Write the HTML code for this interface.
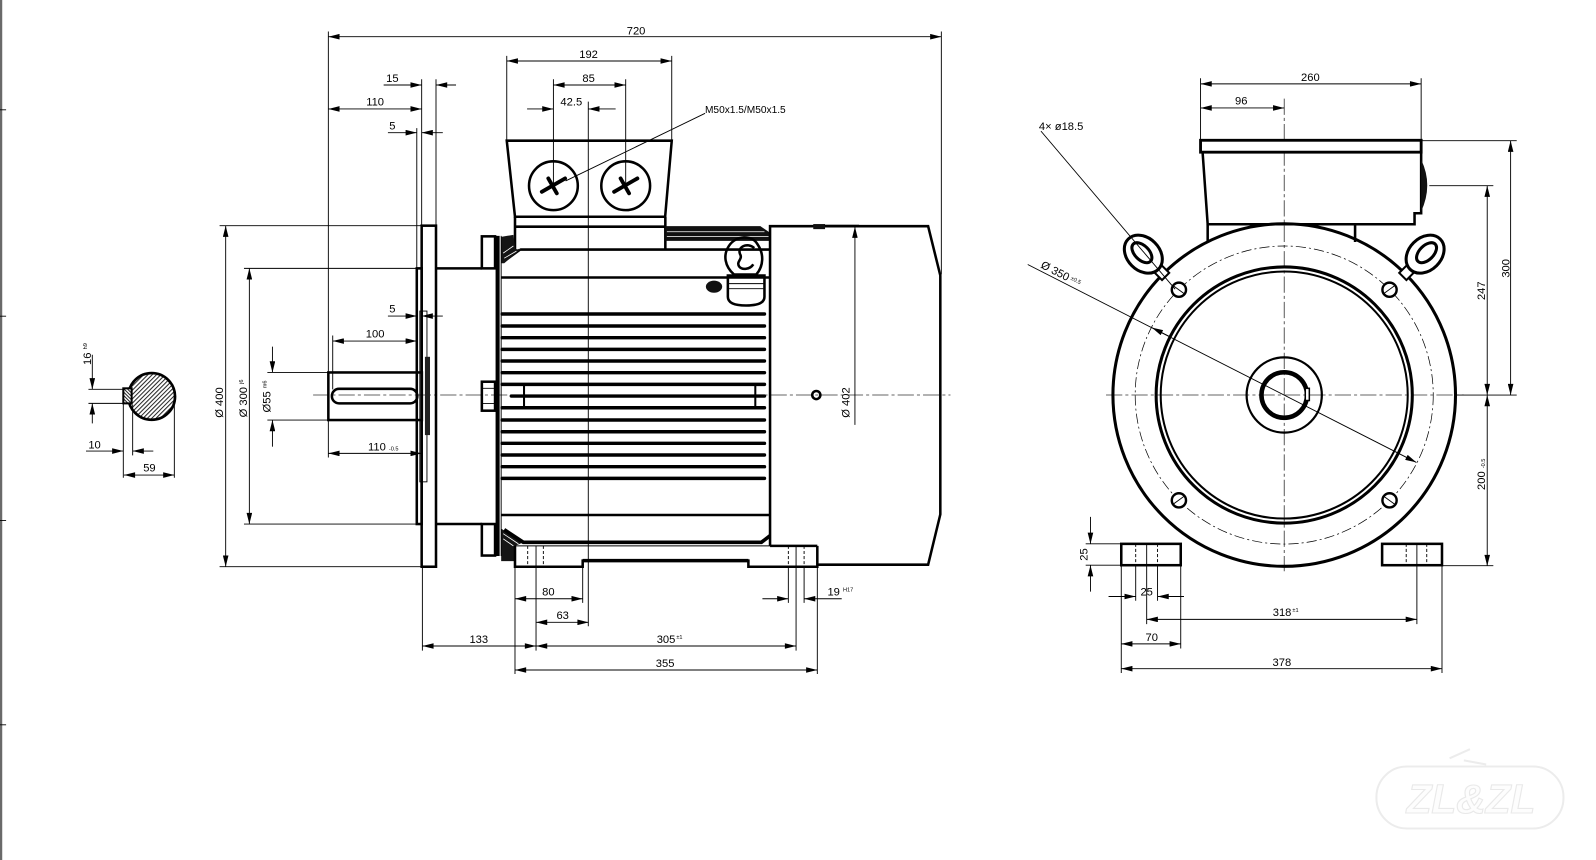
<!DOCTYPE html>
<html><head><meta charset="utf-8">
<style>
html,body{margin:0;padding:0;background:#fff;}
svg{display:block;}
text{font-family:"Liberation Sans",sans-serif;font-size:11px;fill:#000;}
.s{font-size:5.5px;}
.k{stroke:#000;stroke-width:2.5;fill:none;}
.t{stroke:#000;stroke-width:0.9;fill:none;}
.d{stroke:#000;stroke-width:0.9;fill:none;marker-start:url(#a);marker-end:url(#a);}
.e{stroke:#000;stroke-width:0.9;fill:none;marker-end:url(#a);}
.c{stroke:#333;stroke-width:0.8;fill:none;stroke-dasharray:16 3 3 3;}
.f{stroke:#000;stroke-width:3.4;stroke-linecap:round;fill:none;}
.dash{stroke:#000;stroke-width:0.9;fill:none;stroke-dasharray:3 2;}
</style></head><body>
<svg width="1596" height="860" viewBox="0 0 1570 846" preserveAspectRatio="none" xmlns="http://www.w3.org/2000/svg">
<defs>
<marker id="a" viewBox="0 0 12 6" refX="12" refY="3" markerWidth="12" markerHeight="5.5" markerUnits="userSpaceOnUse" orient="auto-start-reverse"><path d="M0,0L12,3L0,6z" fill="#000"/></marker>
<pattern id="h" width="3" height="3" patternUnits="userSpaceOnUse" patternTransform="rotate(45)"><rect width="3" height="3" fill="#fff"/><line x1="0.5" y1="0" x2="0.5" y2="3" stroke="#222" stroke-width="1"/></pattern>
<pattern id="h2" width="2.4" height="2.4" patternUnits="userSpaceOnUse" patternTransform="rotate(-45)"><rect width="2.4" height="2.4" fill="#fff"/><line x1="0.5" y1="0" x2="0.5" y2="2.4" stroke="#222" stroke-width="1"/></pattern>
</defs>

<!-- left border -->
<rect x="0" y="0" width="2.2" height="846" fill="#6a6a6a"/>
<path class="t" d="M0,108H6M0,311H6M0,512H6M0,713H6"/>

<!-- ===== key section ===== -->
<circle cx="149.2" cy="390" r="23" fill="url(#h)" stroke="#000" stroke-width="2.6"/>
<rect x="121.3" y="382" width="8.2" height="14.8" fill="#fff"/>
<rect x="121.3" y="382" width="8.2" height="14.8" fill="url(#h2)" stroke="#000" stroke-width="2"/>

<!-- ===== LEFT VIEW ===== -->
<path class="c" d="M308,388.6H935"/>

<!-- terminal box -->
<path class="k" fill="#fff" stroke-width="2.7" d="M498.5,138.4H660.8L654.3,213.2H506.6Z"/>
<path class="k" d="M506.6,213.2V246M654.5,213.2V244.4M506.6,223H654.5"/>
<circle class="k" cx="544.4" cy="182.7" r="24"/>
<circle class="k" cx="615.5" cy="182.7" r="24"/>
<path stroke="#000" stroke-width="3.8" stroke-linecap="round" d="M533,188.7L555.9,175.5M539.4,175.5L547.7,190.2M604.1,188.7L627,175.5M610.5,175.5L618.8,190.2"/>

<!-- top frame band -->
<path d="M654.5,222.5H748L757.5,229V237H654.5Z" fill="#111"/>
<path stroke="#fff" stroke-width="0.8" d="M656,228H752M656,232.5H756"/>
<path class="k" d="M511.6,245.5H757.5M496,257L511.6,245.5M493,273H757.5"/>
<!-- corner wedges -->
<path d="M493,233L505,231L507,245L511.6,245.5L496,259L493,259Z" fill="#151515"/>
<path stroke="#fff" stroke-width="0.8" d="M496,254L508,247M495,249L505,242"/>
<path d="M493,520L514.8,533.5L506.6,537V552H493Z" fill="#151515"/>
<path stroke="#fff" stroke-width="0.8" d="M495,525L510,535M495,530L505,537"/>

<!-- fins -->
<path class="f" d="M494,308.9H752M494,320.7H752M494,332.2H752M494,343.7H752M494,355.1H752M494,366.6H752M494,378.1H752M503,389.6H752M494,401.1H752M494,413.2H752M494,424.7H752M494,436.1H752M494,447.6H752M494,459.1H752M494,470.6H752"/>
<path stroke="#000" stroke-width="2" d="M515.5,378V401M743,378V401"/>

<!-- lower body -->
<path class="k" d="M493,506.6H757.5"/>
<path stroke="#000" stroke-width="3.6" fill="none" d="M496,521L514.8,533.5H749L757.5,527"/>

<!-- feet -->
<path class="k" d="M506.6,537V557.5H573.2V551.5H736.2V557.5H804V537"/>
<path stroke="#000" stroke-width="3.4" d="M573.2,551.5H736.2"/>
<path class="t" stroke-width="1.3" d="M506.6,537H757.5"/>
<path class="k" d="M757.5,537H804"/>
<path class="dash" d="M519.1,537V557.5M534.5,537V557.5M775.5,537V557.5M791,537V557.5"/>

<!-- body left face, hubs, neck -->
<path stroke="#000" stroke-width="4" d="M489.5,232V547"/>
<path class="t" d="M493,232V547"/>
<rect class="k" stroke-width="2.2" x="474" y="232.5" width="13" height="31.5"/>
<rect class="k" stroke-width="2.2" x="474" y="515.5" width="13" height="31"/>
<rect class="k" stroke-width="2.2" x="474" y="375.5" width="13" height="28.5"/>
<path class="t" d="M474,382H487M474,397H487"/>
<path class="k" stroke-width="2.2" d="M428.9,264H474M428.9,515.5H474"/>

<!-- flange, spigot -->
<rect class="k" fill="#fff" x="414.8" y="222" width="14.1" height="335.5"/>
<rect class="k" stroke-width="2.2" x="410" y="264" width="4.8" height="251.5"/>
<rect class="t" stroke-width="1.3" x="413" y="306" width="7" height="168"/>
<rect x="418" y="351" width="5" height="77" fill="#222"/>

<!-- shaft -->
<rect class="k" x="323" y="366.4" width="92" height="46.8"/>
<rect class="k" x="326.5" y="382.5" width="84" height="14.3" rx="7"/>

<!-- fan cover -->
<path class="k" stroke-width="2.7" d="M757.5,537V222.5H913L925,271V506L913,555.5H804"/>
<rect x="800" y="220.4" width="11.6" height="5" fill="#111"/>
<circle class="k" cx="803" cy="388.6" r="4"/>

<!-- lifting eye + dark oval -->
<path class="k" fill="#fff" stroke-width="3" d="M716,271V292Q716,300.5 734,300.5Q752,300.5 752,292V271Z"/>
<path class="t" stroke-width="1.5" d="M717,279H751M717,284H751"/>
<path class="k" fill="#fff" stroke-width="3" d="M745,240C740,231 724,231 717,242C711,251 713,262 722,270L744,270C751,262 752,250 745,240Z"/>
<path class="k" stroke-width="3" d="M742,244C735,238 725,243 728,250C731,255 724,257 727,262C730,266 738,265 741,260"/>
<ellipse cx="702.4" cy="282" rx="8" ry="6" fill="#111"/>

<!-- left view extension lines -->
<path class="t" d="M323,31V450M926,31V270M498.5,55V138M660.8,55V138M544.4,78V182M615.5,78V182M578.7,100V616M414.8,78V222M428.9,78V222M410,126V264M327.3,330V383M216,222H415M216,557.5H415M240,264H410M240,515.5H410M263,366.4H323M263,413.2H323M87,383H123M87,396.8H123M121.3,397V470M130.5,398V448M171.5,392V470M415.5,557.5V640M506.6,557.5V663M527.3,537V640M573.2,551.5V593M775.5,557.5V593M783.1,537V640M791,557.5V593M804,557.5V663M811,221.5H845"/>
<path class="t" d="M693.6,111.5L556.4,178"/>

<!-- left view dimensions -->
<path class="d" d="M323,36.1H926"/>
<path class="d" d="M498.5,60H660.8"/>
<path class="d" d="M544.4,83.6H615.5"/>
<path class="d" d="M323,107.2H414.8"/>
<path class="d" d="M327.3,335.5H410"/>
<path class="d" d="M323,446H414.8"/>
<path class="d" d="M222,222V557.5"/>
<path class="d" d="M245.3,264V515.5"/>
<path class="d" d="M121.9,467.3H171.5"/>
<path class="d" d="M506.6,589H573.2"/>
<path class="d" d="M527.3,612.2H579"/>
<path class="d" d="M415.5,635.5H527.3"/>
<path class="d" d="M527.3,635.5H783.1"/>
<path class="d" d="M506.6,659.1H804"/>
<path class="e" d="M518.5,107.2H544.4"/><path class="e" d="M605.6,107.2H578.7"/>
<path class="e" d="M377.4,83.6H414.8"/><path class="e" d="M448.6,83.6H428.9"/>
<path class="e" d="M381.6,130.5H410"/><path class="e" d="M435.6,130.5H414.8"/>
<path class="e" d="M381.6,310.9H410"/><path class="e" d="M435.6,310.9H414.8"/>
<path class="e" d="M268,341V366.4"/><path class="e" d="M268,439.4V413.2"/>
<path class="e" d="M90.8,349V383"/><path class="e" d="M90.8,416.5V396.8"/>
<path class="e" d="M84.6,443.7H121.3"/><path class="e" d="M150.8,443.7H130.5"/>
<path class="e" d="M750,589H775.5"/><path class="e" d="M828,589H791"/>
<path class="e" d="M841,418V223"/>

<!-- left view texts -->
<text x="625.7" y="34" text-anchor="middle">720</text>
<text x="579" y="57" text-anchor="middle">192</text>
<text x="579" y="80.5" text-anchor="middle">85</text>
<text x="562" y="104" text-anchor="middle">42.5</text>
<text x="386" y="80.5" text-anchor="middle">15</text>
<text x="369" y="104" text-anchor="middle">110</text>
<text x="386" y="127.5" text-anchor="middle">5</text>
<text x="386" y="307.5" text-anchor="middle">5</text>
<text x="693.5" y="111" style="font-size:10px">M50x1.5/M50x1.5</text>
<text x="369" y="332" text-anchor="middle">100</text>
<text x="362" y="443">110 <tspan class="s">-0.5</tspan></text>
<text transform="translate(219.5,396) rotate(-90)" text-anchor="middle">Ø 400</text>
<text transform="translate(243,392) rotate(-90)" text-anchor="middle">Ø 300 <tspan class="s" dy="-4">j6</tspan></text>
<text transform="translate(266,390) rotate(-90)" text-anchor="middle">Ø55 <tspan class="s" dy="-4">m6</tspan></text>
<text transform="translate(89.5,359) rotate(-90)">16 <tspan class="s" dy="-4">h9</tspan></text>
<text x="93" y="441" text-anchor="middle">10</text>
<text x="147" y="464" text-anchor="middle">59</text>
<text transform="translate(835.5,396) rotate(-90)" text-anchor="middle">Ø 402</text>
<text x="539.4" y="586" text-anchor="middle">80</text>
<text x="553.5" y="609" text-anchor="middle">63</text>
<text x="471" y="632.5" text-anchor="middle">133</text>
<text x="646" y="632.5">305<tspan class="s" dx="1" dy="-4">±1</tspan></text>
<text x="654.3" y="656" text-anchor="middle">355</text>
<text x="814" y="586">19 <tspan class="s" dy="-4">H17</tspan></text>

<!-- ===== RIGHT VIEW ===== -->
<path class="c" d="M1088,388.6H1440M1263.3,97V562"/>
<circle cx="1263.3" cy="388.6" r="168.5" fill="none" stroke="#000" stroke-width="3"/>
<circle cx="1263.3" cy="388.6" r="146.6" fill="none" stroke="#000" stroke-width="0.7" stroke-dasharray="10 3 2 3"/>
<circle cx="1263.3" cy="388.6" r="126" fill="none" stroke="#000" stroke-width="3"/>
<circle cx="1263.3" cy="388.6" r="121.5" fill="none" stroke="#000" stroke-width="2"/>
<circle cx="1263.3" cy="388.6" r="37" fill="none" stroke="#000" stroke-width="2.2"/>
<circle cx="1263.3" cy="388.6" r="22.4" fill="none" stroke="#000" stroke-width="4.5"/>
<rect x="1284" y="382" width="4" height="12" fill="#fff" stroke="#000" stroke-width="1.5"/>

<!-- bolt holes -->
<g fill="#fff" stroke="#000" stroke-width="2.4">
<circle cx="1159.7" cy="285" r="7"/><circle cx="1366.9" cy="285" r="7"/>
<circle cx="1159.7" cy="492.2" r="7"/><circle cx="1366.9" cy="492.2" r="7"/>
</g>
<path class="t" d="M1154,281L1165,289M1361,289L1372,281M1154,496L1165,488M1361,488L1372,496"/>

<!-- lifting eyes -->
<g transform="translate(1263.3,388.6) rotate(-135)">
<rect x="165" y="-5" width="14" height="10" fill="#fff" stroke="#000" stroke-width="2"/>
<ellipse cx="196" cy="0" rx="21" ry="16" fill="#fff" stroke="#000" stroke-width="3"/>
<ellipse cx="198" cy="0" rx="12" ry="7" fill="#fff" stroke="#000" stroke-width="3"/>
</g>
<g transform="translate(1263.3,388.6) rotate(-45)">
<rect x="165" y="-5" width="14" height="10" fill="#fff" stroke="#000" stroke-width="2"/>
<ellipse cx="196" cy="0" rx="21" ry="16" fill="#fff" stroke="#000" stroke-width="3"/>
<ellipse cx="198" cy="0" rx="12" ry="7" fill="#fff" stroke="#000" stroke-width="3"/>
</g>

<!-- terminal box right view -->
<path class="k" stroke-width="2.2" d="M1188,220.6V238M1333,220.6V238"/>
<path class="k" fill="#fff" stroke-width="2.6" d="M1183,149.7L1188,220.6H1391.5V209.8H1398V149.7"/>
<rect x="1181" y="138" width="217" height="11.7" fill="#fff" stroke="#000" stroke-width="2.8"/>
<path d="M1398,157Q1410,182 1398,208Z" fill="#111"/>

<!-- feet right view -->
<rect class="k" stroke-width="2.6" x="1103" y="535" width="58.5" height="21"/>
<rect class="k" stroke-width="2.6" x="1359.6" y="535" width="58.9" height="21"/>
<path class="dash" d="M1117.2,535V556M1138.7,535V556M1383.3,535V556M1403.5,535V556"/>

<!-- right view extension lines -->
<path class="t" d="M1181,77V138M1398,77V138M1398,138.4H1492M1406,182.7H1469M1432,388.6H1492M1418.5,556.5H1469M1068,535H1103M1068,556H1103M1103,556V662M1161.5,556V638M1128,536V614M1117.2,556V591M1138.7,556V591M1393.8,536V614M1418.5,556V662"/>
<path class="t" d="M1024,129L1156,284.5"/>

<!-- right view dims -->
<path class="d" d="M1181,82.5H1398"/>
<path class="d" d="M1181,106.2H1263.3"/>
<path class="d" d="M1486,138.4V388.6"/>
<path class="d" d="M1463,182.7V388.6"/>
<path class="d" d="M1463,388.6V556.8"/>
<path class="d" d="M1128,609.3H1393.8"/>
<path class="d" d="M1103,633.4H1161.5"/>
<path class="d" d="M1103,657.8H1418.5"/>
<path class="e" d="M1072.7,508.5V535"/><path class="e" d="M1072.7,582V556"/>
<path class="e" d="M1090.5,586.8H1117.2"/><path class="e" d="M1164.7,586.8H1138.7"/>
<path class="e" d="M1011,260.2L1393.3,454.9"/>
<path class="e" d="M1152,331.8L1133.1,322.3"/>

<!-- right view texts -->
<text x="1289" y="79.5" text-anchor="middle">260</text>
<text x="1221" y="103" text-anchor="middle">96</text>
<text x="1022" y="128">4×  ø18.5</text>
<text transform="translate(1023,263) rotate(27)">Ø 350<tspan class="s" dx="2" dy="-3">±0.5</tspan></text>
<text transform="translate(1485,264) rotate(-90)" text-anchor="middle">300</text>
<text transform="translate(1461,286) rotate(-90)" text-anchor="middle">247</text>
<text transform="translate(1461,482) rotate(-90)">200 <tspan class="s">-0.5</tspan></text>
<text transform="translate(1070,545.5) rotate(-90)" text-anchor="middle">25</text>
<text x="1128" y="586" text-anchor="middle">25</text>
<text x="1252" y="606">318<tspan class="s" dx="1" dy="-4">±1</tspan></text>
<text x="1133" y="630.5" text-anchor="middle">70</text>
<text x="1261" y="655" text-anchor="middle">378</text>

<!-- faint logo -->
<g fill="none" stroke="#ececec" stroke-width="2">
<rect x="1354" y="754" width="184" height="61" rx="30"/>
<path d="M1426,746L1446,737M1440,748L1462,752"/>
</g>
<text x="1447" y="800" text-anchor="middle" style="font-size:40px;font-style:italic;font-weight:bold;fill:#fdfdfd;stroke:#e9e9e9;stroke-width:1.1">ZL&amp;ZL</text>
</svg>
</body></html>
